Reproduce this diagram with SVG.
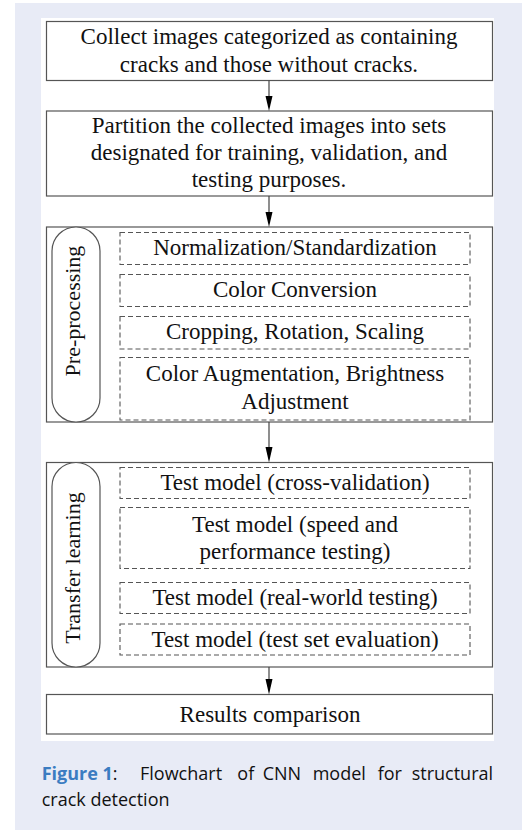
<svg xmlns="http://www.w3.org/2000/svg" width="522" height="830" viewBox="0 0 522 830">
<defs>
<style>
.box{fill:#fff;stroke:#555;stroke-width:1.2}
.dash{fill:none;stroke:#555;stroke-width:1.1;stroke-dasharray:5,3}
.pill{fill:#fff;stroke:#555;stroke-width:1.2}
.t{font-family:"Liberation Serif","Times New Roman",serif;font-size:23px;fill:#111;text-anchor:middle}
.v{font-family:"Liberation Serif","Times New Roman",serif;font-size:22px;fill:#111;text-anchor:middle}
.cap{font-family:"Open Sans","Noto Sans",sans-serif;font-size:18px;fill:#111}
.capb{font-family:"Open Sans","Noto Sans",sans-serif;font-size:18px;font-weight:bold;fill:#3b7cc1}
.conn line{stroke:#444;stroke-width:1.2}
.conn polygon{fill:#000}
</style>
</defs>
<rect x="0" y="0" width="522" height="830" fill="#fff"/>
<rect x="15" y="3" width="507" height="827" fill="#e8ebf6"/>
<rect x="41" y="18" width="453" height="723" fill="#fff"/>

<g id="n1">
<rect class="box" x="46.5" y="21.5" width="446" height="59"/>
<text class="t" x="269" y="44">Collect images categorized as containing</text>
<text class="t" x="269" y="72">cracks and those without cracks.</text>
</g>

<g id="n2">
<rect class="box" x="46.5" y="111" width="446" height="85"/>
<text class="t" x="269" y="133">Partition the collected images into sets</text>
<text class="t" x="269" y="160">designated for training, validation, and</text>
<text class="t" x="269" y="187">testing purposes.</text>
</g>

<g id="n3">
<rect class="box" x="46.5" y="227" width="446" height="195"/>
<rect class="pill" x="52" y="227" width="48" height="195" rx="24" ry="24"/>
<text class="v" transform="translate(80,311) rotate(-90)">Pre-processing</text>
<g id="n3a"><rect class="dash" x="120" y="232.5" width="350" height="32"/>
<text class="t" x="295" y="255">Normalization/Standardization</text></g>
<g id="n3b"><rect class="dash" x="120" y="274.5" width="350" height="32"/>
<text class="t" x="295" y="297">Color Conversion</text></g>
<g id="n3c"><rect class="dash" x="120" y="316.5" width="350" height="32.5"/>
<text class="t" x="295" y="339">Cropping, Rotation, Scaling</text></g>
<g id="n3d"><rect class="dash" x="120" y="357.5" width="350" height="62.5"/>
<text class="t" x="295" y="381">Color Augmentation, Brightness</text>
<text class="t" x="295" y="409">Adjustment</text></g>
</g>

<g id="n4">
<rect class="box" x="46.5" y="462.5" width="446" height="204.5"/>
<rect class="pill" x="52" y="462.5" width="48" height="204.5" rx="24" ry="24"/>
<text class="v" transform="translate(80,568) rotate(-90)">Transfer learning</text>
<g id="n4a"><rect class="dash" x="120" y="467.5" width="350" height="31"/>
<text class="t" x="295" y="490">Test model (cross-validation)</text></g>
<g id="n4b"><rect class="dash" x="120" y="507.5" width="350" height="61"/>
<text class="t" x="295" y="531.5">Test model (speed and</text>
<text class="t" x="295" y="559">performance testing)</text></g>
<g id="n4c"><rect class="dash" x="120" y="582.5" width="350" height="31"/>
<text class="t" x="295" y="605">Test model (real-world testing)</text></g>
<g id="n4d"><rect class="dash" x="120" y="624" width="350" height="31"/>
<text class="t" x="295" y="647">Test model (test set evaluation)</text></g>
</g>

<g id="n5">
<rect class="box" x="46.5" y="694.5" width="446" height="39.5"/>
<text class="t" x="270" y="722">Results comparison</text>
</g>

<g id="connectors" class="conn">
<line x1="269" y1="80.5" x2="269" y2="97"/>
<polygon points="265.5,96 272.5,96 269,111"/>
<line x1="269" y1="196" x2="269" y2="213"/>
<polygon points="265.5,212 272.5,212 269,227"/>
<line x1="269" y1="422" x2="269" y2="448"/>
<polygon points="265.5,447 272.5,447 269,462.5"/>
<line x1="269" y1="667" x2="269" y2="680"/>
<polygon points="265.5,679 272.5,679 269,694.5"/>
</g>

<g id="caption">
<text class="cap" x="41.7" y="780"><tspan class="capb">Figure 1</tspan>:</text>
<text class="cap" x="140" y="780">Flowchart</text>
<text class="cap" x="237.3" y="780">of</text>
<text class="cap" x="262.7" y="780">CNN</text>
<text class="cap" x="312.7" y="780">model</text>
<text class="cap" x="377.7" y="780">for</text>
<text class="cap" x="411.7" y="780">structural</text>
<text class="cap" x="41.7" y="806">crack detection</text>
</g>
</svg>
